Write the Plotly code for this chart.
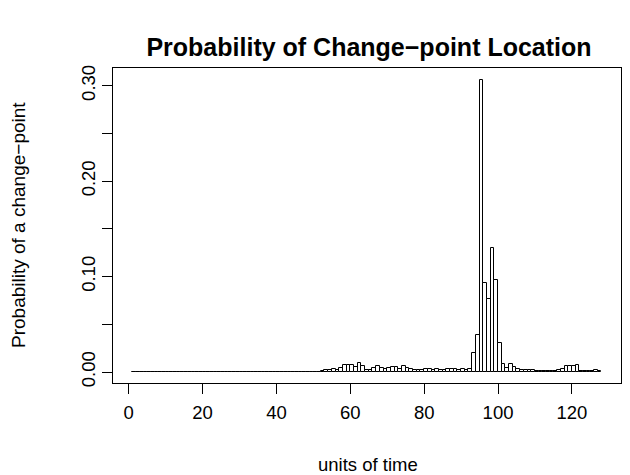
import plotly.graph_objects as go

# bar i spans [t, t+1)
time_start = list(range(1, 128))

prob_early = [0.0001] * 29 + [0.0002] * 10 + [0.0003] * 10  # t = 1..49
prob_mid = [0.0003, 0.0005, 0.0007, 0.0017, 0.0017, 0.0035, 0.0024, 0.0038,  # 50..57
            0.0070, 0.0073, 0.0073, 0.0056, 0.0094, 0.0066, 0.0017, 0.0024,  # 58..65
            0.0038, 0.0060, 0.0042, 0.0035, 0.0038, 0.0052, 0.0052, 0.0035,  # 66..73
            0.0063, 0.0038, 0.0028, 0.0024, 0.0017, 0.0024, 0.0030, 0.0028,  # 74..81
            0.0020, 0.0028, 0.0024, 0.0017, 0.0028, 0.0035, 0.0035, 0.0020,  # 82..89
            0.0028, 0.0024, 0.0035]                                          # 90..92
prob_peak = [0.0196, 0.0384, 0.3056, 0.0930, 0.0770, 0.1296, 0.0967, 0.0300]  # 93..100
prob_late = [0.0087, 0.0040, 0.0087, 0.0050, 0.0030, 0.0020, 0.0020, 0.0017,  # 101..108
             0.0017, 0.0015, 0.0015, 0.0012, 0.0012, 0.0012, 0.0012, 0.0020,  # 109..116
             0.0030, 0.0066, 0.0062, 0.0062, 0.0070, 0.0012, 0.0012, 0.0012,  # 117..124
             0.0012, 0.0017, 0.0012]                                          # 125..127
probability = prob_early + prob_mid + prob_peak + prob_late

y_tickvals = [0.0, 0.05, 0.10, 0.15, 0.20, 0.25, 0.30]
y_ticktext = ["0.00", "", "0.10", "", "0.20", "", "0.30"]
x_tickvals = [0, 20, 40, 60, 80, 100, 120]

FONT = "Liberation Sans, Arial, Helvetica, sans-serif"
FS = 18.5

fig = go.Figure()
fig.add_trace(go.Bar(
    x=[t + 0.5 for t in time_start],
    y=probability,
    width=1,
    marker=dict(color="white", line=dict(color="black", width=1)),
    showlegend=False,
))

fig.update_layout(
    width=630, height=475,
    margin=dict(l=105, r=17, t=60, b=100),
    paper_bgcolor="white", plot_bgcolor="white",
    font=dict(family=FONT, size=FS, color="black"),
    bargap=0,
    title=dict(text="<b>Probability of Change\u2212point Location</b>",
               x=361 / 630, xanchor="center", y=1 - 39 / 475, yanchor="middle",
               font=dict(family=FONT, size=25, color="black")),
    xaxis=dict(range=[-4.26, 133.3], tickvals=x_tickvals, ticks="outside",
               ticklen=10, tickwidth=1, tickcolor="black", automargin=False,
               showline=True, mirror=True, linecolor="black", linewidth=1,
               showgrid=False, zeroline=False, ticklabelstandoff=3,
               tickfont=dict(size=FS)),
    yaxis=dict(range=[-0.0115, 0.3185], tickvals=y_tickvals, ticktext=y_ticktext,
               ticks="outside", ticklen=10, tickwidth=1, tickcolor="black",
               tickangle=-90, automargin=False,
               showline=True, mirror=True, linecolor="black", linewidth=1,
               showgrid=False, zeroline=False, ticklabelstandoff=0,
               tickfont=dict(size=FS)),
    annotations=[
        dict(text="units of time", xref="paper", yref="paper",
             x=(368 - 113) / 508, y=(383 - 464) / 315, xanchor="center", yanchor="middle",
             showarrow=False, font=dict(size=FS)),
        dict(text="Probability of a change\u2212point", xref="paper", yref="paper",
             x=(18 - 113) / 508, y=(383 - 225) / 315, xanchor="center", yanchor="middle",
             textangle=-90, showarrow=False, font=dict(size=19)),
    ],
)

fig.write_html("out.html")
